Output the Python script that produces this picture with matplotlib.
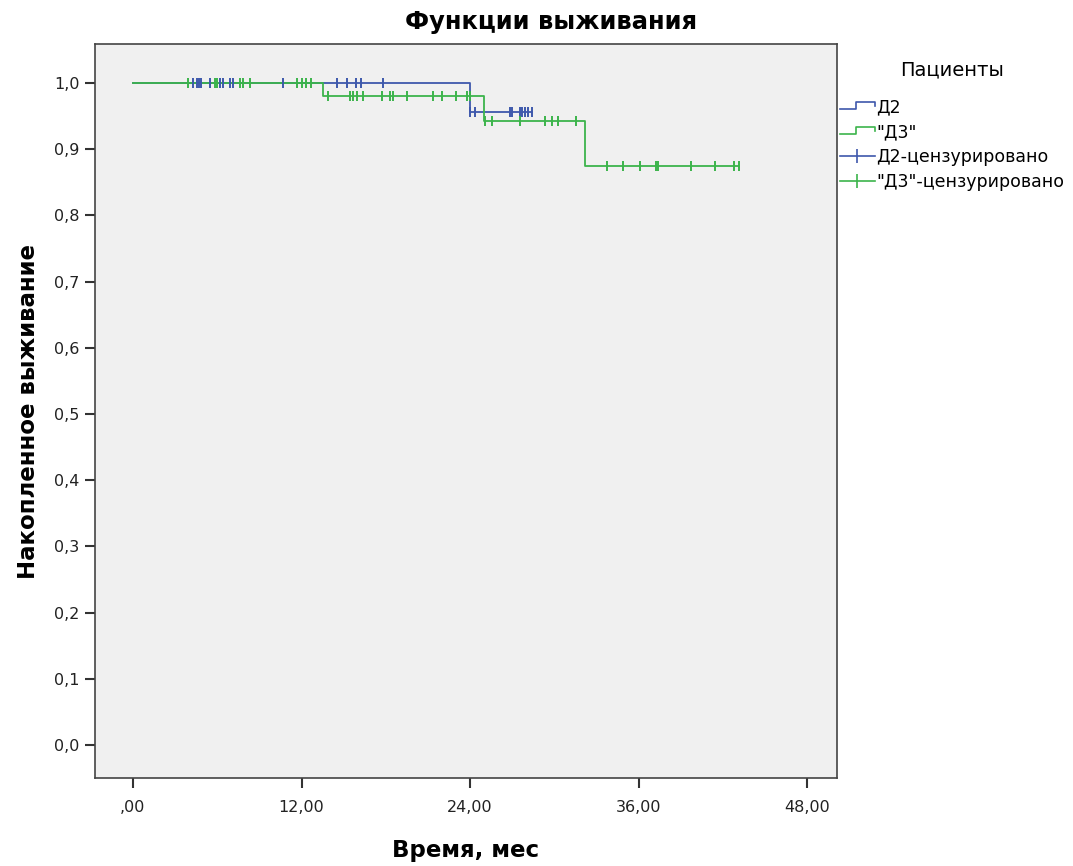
import numpy as np
import matplotlib
matplotlib.use('Agg')
import matplotlib.pyplot as plt
from matplotlib.lines import Line2D
from matplotlib.legend_handler import HandlerBase

plt.rcParams['font.family'] = ['DejaVu Sans']

# --- Kaplan-Meier steps ---
d2_times = [0.0, 24.0, 28.4]
d2_surv = [1.0, 0.956, 0.956]
d2_cens = [4.3, 4.55, 4.7, 4.85, 5.5, 6.2, 6.4, 6.9, 7.1, 10.7, 14.5, 15.2,
           15.9, 16.2, 17.8, 24.0, 24.35, 26.85, 27.0, 27.55, 27.7, 27.9, 28.1, 28.4]

d3_times = [0.0, 13.5, 25.0, 32.2, 43.1]
d3_surv = [1.0, 0.980, 0.943, 0.875, 0.875]
d3_cens = [3.9, 5.85, 6.0, 7.6, 7.85, 8.3, 11.7, 12.0, 12.3, 12.7,
           13.9, 15.45, 15.65, 15.95, 16.4, 17.75, 18.3, 18.5, 19.5, 21.35, 22.0,
           23.0, 23.8, 24.0, 25.05, 25.55, 27.55, 29.35, 29.85, 30.25, 31.5,
           33.75, 34.85, 36.1, 37.2, 37.4, 39.7, 41.4, 42.75, 43.1]

blue = '#3e58ac'
green = '#3cb44b'


def surv_at(times, surv, t):
    idx = np.searchsorted(times, t, side='right') - 1
    return np.asarray(surv)[idx]


class StepHandler(HandlerBase):
    def create_artists(self, legend, orig_handle, xdescent, ydescent, width, height, fontsize, trans):
        xs = np.array([0, 0.45, 0.45, 1.0, 1.0]) * width - xdescent
        ys = np.array([0.25, 0.25, 0.85, 0.85, 0.55]) * height - ydescent
        ln = Line2D(xs, ys, color=orig_handle.get_color(), lw=1.2, transform=trans)
        return [ln]


fig = plt.figure(figsize=(10.73, 8.66), dpi=100)
ax = fig.add_axes([0.0885, 0.1016, 0.6915, 0.8475])
ax.set_facecolor('#f0f0f0')

ax.plot(d2_times, d2_surv, drawstyle='steps-post', color=blue, lw=1.3)
ax.plot(d3_times, d3_surv, drawstyle='steps-post', color=green, lw=1.3)
ax.plot(d2_cens, surv_at(d2_times, d2_surv, d2_cens), ls='none', marker='|',
        ms=7.5, mew=1.4, color=blue)
ax.plot(d3_cens, surv_at(d3_times, d3_surv, d3_cens), ls='none', marker='|',
        ms=7.5, mew=1.4, color=green)

ax.set_xlim(-2.7, 50.1)
ax.set_ylim(-0.05, 1.059)
xt = [0, 12, 24, 36, 48]
ax.set_xticks(xt)
ax.set_xticklabels([',00', '12,00', '24,00', '36,00', '48,00'])
yt = np.round(np.arange(0, 1.01, 0.1), 1)
ax.set_yticks(yt)
ax.set_yticklabels([f'{v:.1f}'.replace('.', ',') for v in yt])
ax.tick_params(direction='out', length=7, width=1.5, color='#333333',
               labelsize=11.5, labelcolor='#222222', pad=4)
ax.tick_params(axis='x', pad=9)
for s in ax.spines.values():
    s.set_color('#444444')
    s.set_linewidth(1.2)

fig.text(551 / 1073, 1 - 22 / 866, 'Функции выживания', fontsize=17.5,
         fontweight='bold', ha='center', va='center')
fig.text(466 / 1073, 1 - 851 / 866, 'Время, мес', fontsize=16.5,
         fontweight='bold', ha='center', va='center')
ax.set_ylabel('Накопленное выживание', fontsize=16.5, fontweight='bold', labelpad=10)

h_d2 = Line2D([], [], color=blue)
h_d3 = Line2D([], [], color=green)
h_c2 = Line2D([], [], color=blue, marker='|', ms=10, mew=1.2, lw=1.2)
h_c3 = Line2D([], [], color=green, marker='|', ms=10, mew=1.2, lw=1.2)
leg = fig.legend([h_d2, h_d3, h_c2, h_c3],
                 ['Д2', '"Д3"', 'Д2-цензурировано', '"Д3"-цензурировано'],
                 title='Пациенты', loc='upper left', bbox_to_anchor=(840 / 1073, 1 - 60 / 866),
                 frameon=False, fontsize=12.5, title_fontsize=14, numpoints=1,
                 borderpad=0, borderaxespad=0,
                 handlelength=2.0, handletextpad=0.1, labelspacing=0.4,
                 handler_map={h_d2: StepHandler(), h_d3: StepHandler()})
leg._legend_box.align = 'center'
leg._legend_box.sep = 14

fig.savefig('out.png', dpi=100, facecolor='white')
